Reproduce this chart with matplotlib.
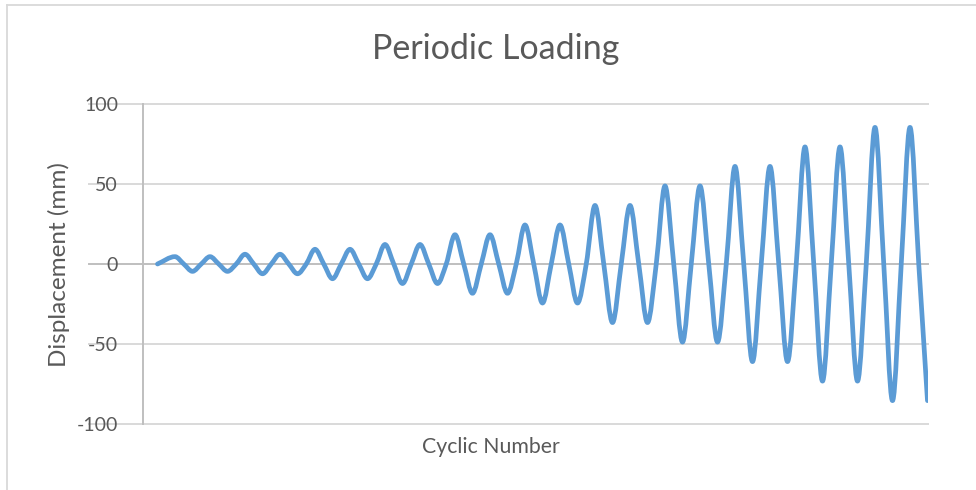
import numpy as np
import matplotlib.pyplot as plt
from matplotlib.path import Path
from matplotlib.patches import PathPatch
from matplotlib.lines import Line2D

plt.rcParams['font.family'] = ['Lato', 'DejaVu Sans']

# amplitudes, two cycles per step
peak_values = [4.6, 4.6, 6.1, 6.1, 9.2, 9.2, 12.2, 12.2, 18.3, 18.3, 24.4, 24.4,
               36.6, 36.6, 48.8, 48.8, 61.0, 61.0, 73.2, 73.2, 85.4, 85.4]
trough_values = [-4.6, -4.6, -6.1, -6.1, -9.2, -9.2, -12.2, -12.2, -18.3, -18.3, -24.4, -24.4,
                 -36.6, -36.6, -48.8, -48.8, -61.0, -61.0, -73.2, -73.2, -85.4, -85.4]
yticks = [-100, -50, 0, 50, 100]

# points: start, then peak / zero / trough / zero for each cycle
t = [0.0]
d = [0.0]
for k, (pk, tr) in enumerate(zip(peak_values, trough_values), start=1):
    t += [k - 0.5, k - 0.25, k]
    d += [pk, 0.0, tr]
    if k < len(peak_values):
        t.append(k + 0.25)
        d.append(0.0)
t = np.array(t)
d = np.array(d)

# smoothed line like excel (catmull-rom -> bezier)
n = len(t)
m = np.zeros(n)
m[0] = (d[1] - d[0]) / (t[1] - t[0])
m[-1] = (d[-1] - d[-2]) / (t[-1] - t[-2])
for i in range(1, n - 1):
    m[i] = (d[i + 1] - d[i - 1]) / (t[i + 1] - t[i - 1])
verts = [(t[0], d[0])]
codes = [Path.MOVETO]
for i in range(n - 1):
    h = (t[i + 1] - t[i]) / 3
    verts += [(t[i] + h, d[i] + h * m[i]), (t[i + 1] - h, d[i + 1] - h * m[i + 1]), (t[i + 1], d[i + 1])]
    codes += [Path.CURVE4] * 3

W, H = 976, 490
fig = plt.figure(figsize=(W / 100, H / 100), dpi=100)
ax = fig.add_axes([143 / W, 1 - 424 / H, (928 - 143) / W, (424 - 104) / H])

ax.add_patch(PathPatch(Path(verts, codes), facecolor='none', edgecolor='#5B9BD5',
                       lw=3.4, capstyle='round', joinstyle='round', zorder=3))

ax.set_xlim(-14.5 / 35, 22 + 0.5 / 35)
ax.set_ylim(-100, 100)
ax.set_xticks([])
ax.set_yticks(yticks)
ax.set_yticklabels([str(v) for v in yticks])
ax.tick_params(axis='y', length=0, pad=18, labelsize=14, labelcolor='#595959')
for s in ax.spines.values():
    s.set_visible(False)
ax.plot([0, 0], [0, 1], transform=ax.transAxes, color='#BFBFBF', lw=1.4, clip_on=False, zorder=2)

trans = ax.get_yaxis_transform()
for v in yticks:
    c = '#BFBFBF' if v == 0 else '#D9D9D9'
    ax.plot([(89 - 143) / 785, 1], [v, v], transform=trans, color=c, lw=1.4,
            clip_on=False, zorder=1)

fig.text(496 / W, 1 - 59 / H, 'Periodic Loading', ha='center', va='baseline',
         fontsize=24.5, color='#595959')
fig.text(59 / W, 1 - 265 / H, 'Displacement (mm)', ha='center', va='center',
         rotation=90, fontsize=17.5, color='#595959')
fig.text(491 / W, 1 - 453 / H, 'Cyclic Number', ha='center', va='baseline',
         fontsize=15.3, color='#595959')

# chart area border (only left and top visible)
fig.add_artist(Line2D([7 / W, 7 / W], [0, 1 - 5 / H], color='#D9D9D9', lw=1.3))
fig.add_artist(Line2D([7 / W, 1], [1 - 5 / H, 1 - 5 / H], color='#D9D9D9', lw=1.3))

fig.savefig('out.png', dpi=100)
